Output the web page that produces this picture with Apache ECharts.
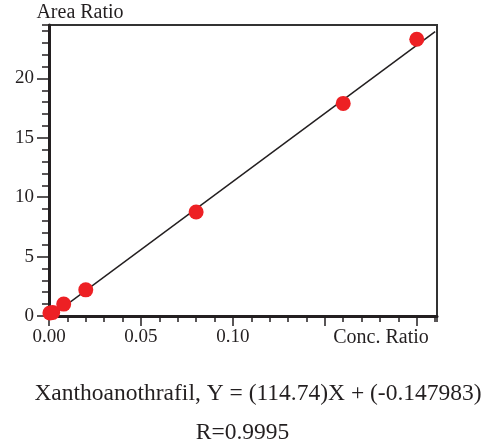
<!DOCTYPE html>
<html>
<head>
<meta charset="utf-8">
<script src="https://cdn.jsdelivr.net/npm/echarts@6/dist/echarts.min.js"></script>
<style>
  html, body { margin: 0; padding: 0; background: #fff; }
  #chart { width: 491px; height: 448px; }
</style>
</head>
<body>
<div id="chart"></div>
<script>
// measured points (conc. ratio, area ratio)
const concRatio = [0.0005, 0.002, 0.008, 0.02, 0.08, 0.16, 0.2]
const areaRatio = [0.25, 0.3, 1.0, 2.2, 8.75, 17.9, 23.3]
// regression line end points
const fitX = [0, 0.21]
const fitY = [-0.15, 23.95]
const xTickLabels = ['0.00', '0.05', '0.10']
const equationText = 'Xanthoanothrafil, Y = (114.74)X + (-0.147983)'
const rText = 'R=0.9995'

const font = 'Liberation Serif'
const ink = '#231f20'

const points = concRatio.map((x, i) => [x, areaRatio[i]])
const fitLine = fitX.map((x, i) => [x, fitY[i]])

const xMax = 0.211
const yMax = 24.5

const option = {
  animation: false,
  grid: {
    left: 49, right: 54, top: 25, bottom: 132,
    show: true, borderColor: '#333', borderWidth: 2, backgroundColor: '#fff',
  },
  xAxis: [
    {
      type: 'value', min: 0, max: xMax, interval: 0.05, position: 'bottom',
      splitLine: { show: false },
      axisLine: { lineStyle: { color: ink, width: 3 } },
      axisTick: { length: 10, lineStyle: { color: ink, width: 1.5 } },
      axisLabel: {
        color: ink, fontFamily: font, fontSize: 19, margin: 12,
        showMaxLabel: false,
        formatter: (v) => {
          const s = v.toFixed(2)
          return xTickLabels.includes(s) ? s : ''
        },
      },
    },
    {
      type: 'value', min: 0, max: xMax, interval: 0.01, position: 'bottom',
      splitLine: { show: false },
      axisLine: { show: false },
      axisTick: { length: 6, lineStyle: { color: ink, width: 1.5 } },
      axisLabel: { show: false },
    },
  ],
  yAxis: [
    {
      type: 'value', min: 0, max: yMax, interval: 5, position: 'left',
      splitLine: { show: false },
      axisLine: { lineStyle: { color: ink, width: 3 } },
      axisTick: { length: 12, lineStyle: { color: ink, width: 1.5 } },
      axisLabel: {
        color: ink, fontFamily: font, fontSize: 19, margin: 15, showMaxLabel: false,
      },
    },
    {
      type: 'value', min: 0, max: yMax, interval: 1, position: 'left',
      splitLine: { show: false },
      axisLine: { show: false },
      axisTick: { length: 7, lineStyle: { color: ink, width: 1.5 } },
      axisLabel: { show: false },
    },
  ],
  graphic: [
    {
      type: 'text', x: 80, y: 13,
      style: {
        text: 'Area Ratio', fill: ink, font: '20px "Liberation Serif"',
        textAlign: 'center', textVerticalAlign: 'middle',
      },
    },
    {
      type: 'text', x: 381, y: 338,
      style: {
        text: 'Conc. Ratio', fill: ink, font: '20px "Liberation Serif"',
        textAlign: 'center', textVerticalAlign: 'middle',
      },
    },
    {
      type: 'text', x: 258, y: 394,
      style: {
        text: equationText, fill: ink, font: '23.5px "Liberation Serif"',
        textAlign: 'center', textVerticalAlign: 'middle',
      },
    },
    {
      type: 'text', x: 242.5, y: 433,
      style: {
        text: rText, fill: ink, font: '23.5px "Liberation Serif"',
        textAlign: 'center', textVerticalAlign: 'middle',
      },
    },
  ],
  series: [
    {
      type: 'line', data: fitLine, symbol: 'none',
      lineStyle: { color: ink, width: 1.5 },
      z: 2,
    },
    {
      type: 'scatter', data: points, symbolSize: 15,
      itemStyle: { color: '#ed2024', opacity: 1 },
      z: 3,
    },
  ],
}

const dom = document.getElementById('chart')
if (dom) {
  const myChart = echarts.init(dom)
  myChart.setOption(option)
}
</script>
</body>
</html>
